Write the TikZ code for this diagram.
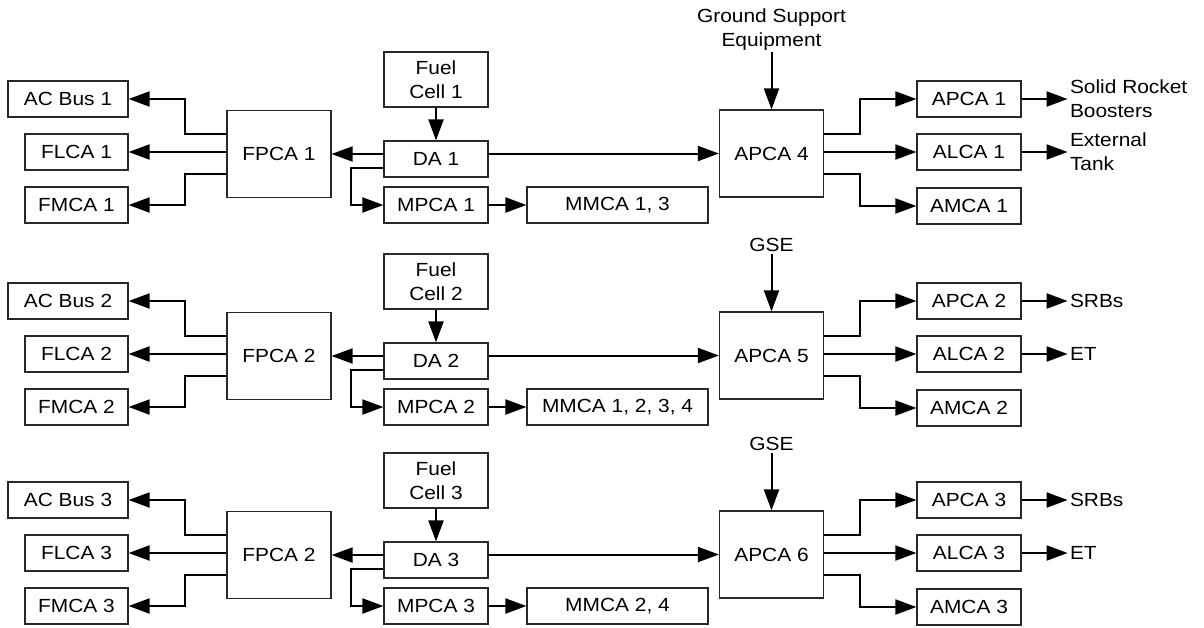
\documentclass[tikz,border=0pt]{standalone}
\usepackage{fontspec}
\setmainfont{Liberation Sans}[FakeStretch=1.1]
\usetikzlibrary{arrows.meta,positioning}
\definecolor{ink}{RGB}{40,40,40}
\tikzset{
  blk/.style={draw=ink,line width=0.6pt,inner sep=0pt,minimum width=52pt,minimum height=18pt},
  wblk/.style={blk,minimum width=60pt},
  nblk/.style={blk,minimum width=51.5pt},
  bigblk/.style={blk,minimum height=43.5pt},
  fcblk/.style={blk,minimum height=27.5pt,align=center},
  mmblk/.style={blk,minimum width=90.5pt},
  lbl/.style={inner sep=1pt,align=left},
  arr/.style={-{Triangle[length=10.5pt,width=7.5pt]},line width=1pt},
}

\begin{document}
\begin{tikzpicture}[x=0.5pt,y=-0.5pt,font=\fontsize{9.5}{12}\selectfont]
  \useasboundingbox (0,0) rectangle (1204,627);
  \foreach \r/\o/\fp/\ap/\mm/\gs/\sr/\et in {
    1/0/FPCA 1/APCA 4/{MMCA 1, 3}/{Ground Support\\Equipment}/{Solid Rocket\\Boosters}/{External\\Tank},
    2/202/FPCA 2/APCA 5/{MMCA 1, 2, 3, 4}/GSE/SRBs/ET,
    3/401/FPCA 2/APCA 6/{MMCA 2, 4}/GSE/SRBs/ET}{
    % left side
    \node[wblk] (acbus\r) at (68,{99+\o}) {AC Bus \r};
    \node[nblk] (flca\r) at (76.5,{152+\o}) {FLCA \r};
    \node[nblk] (fmca\r) at (76.5,{205+\o}) {FMCA \r};
    \node[bigblk] (fpca\r) at (279,{154+\o}) {\fp};
    % middle
    \node[fcblk] (fcell\r) at (436,{79.5+\o}) {Fuel\\Cell \r};
    \node[blk] (da\r) at (436,{159+\o}) {DA \r};
    \node[blk] (mpca\r) at (436,{205+\o}) {MPCA \r};
    \node[mmblk] (mmca\r) at (617.5,{205+\o}) {\mm};
    % right side
    \node[bigblk] (apcam\r) at (771.5,{153.5+\o}) {\ap};
    \node[lbl,align=center,above=28.5pt of apcam\r.north] (gse\r) {\gs};
    \node[blk] (apca\r) at (969,{99+\o}) {APCA \r};
    \node[blk] (alca\r) at (969,{152+\o}) {ALCA \r};
    \node[blk] (amca\r) at (969,{206+\o}) {AMCA \r};
    \node[lbl,right=23pt of apca\r.east] (srb\r) {\sr};
    \node[lbl,right=23pt of alca\r.east] (et\r) {\et};
    % connectors
    \draw[arr] ([yshift=10pt]fpca\r.west) -- ++(-20.5pt,0) |- (acbus\r.east);
    \draw[arr] (fpca\r.west |- flca\r.east) -- (flca\r.east);
    \draw[arr] ([yshift=-10pt]fpca\r.west) -- ++(-20.5pt,0) |- (fmca\r.east);
    \draw[arr] (fcell\r.south) -- (da\r.north);
    \draw[arr] (da\r.west |- fpca\r.east) -- (fpca\r.east);
    \draw[arr] ([yshift=5pt]da\r.south west) -- ++(-16pt,0) |- (mpca\r.west);
    \draw[arr] (mpca\r.east) -- (mmca\r.west);
    \draw[arr] (da\r.east |- apcam\r.west) -- (apcam\r.west);
    \draw[arr] (gse\r.south) -- (apcam\r.north);
    \draw[arr] ([yshift=10pt]apcam\r.east) -- ++(18pt,0) |- (apca\r.west);
    \draw[arr] (apcam\r.east |- alca\r.west) -- (alca\r.west);
    \draw[arr] ([yshift=-10pt]apcam\r.east) -- ++(18pt,0) |- (amca\r.west);
    \draw[arr] (apca\r.east) -- (srb\r.west);
    \draw[arr] (alca\r.east) -- (et\r.west);
  }
\end{tikzpicture}
\end{document}
